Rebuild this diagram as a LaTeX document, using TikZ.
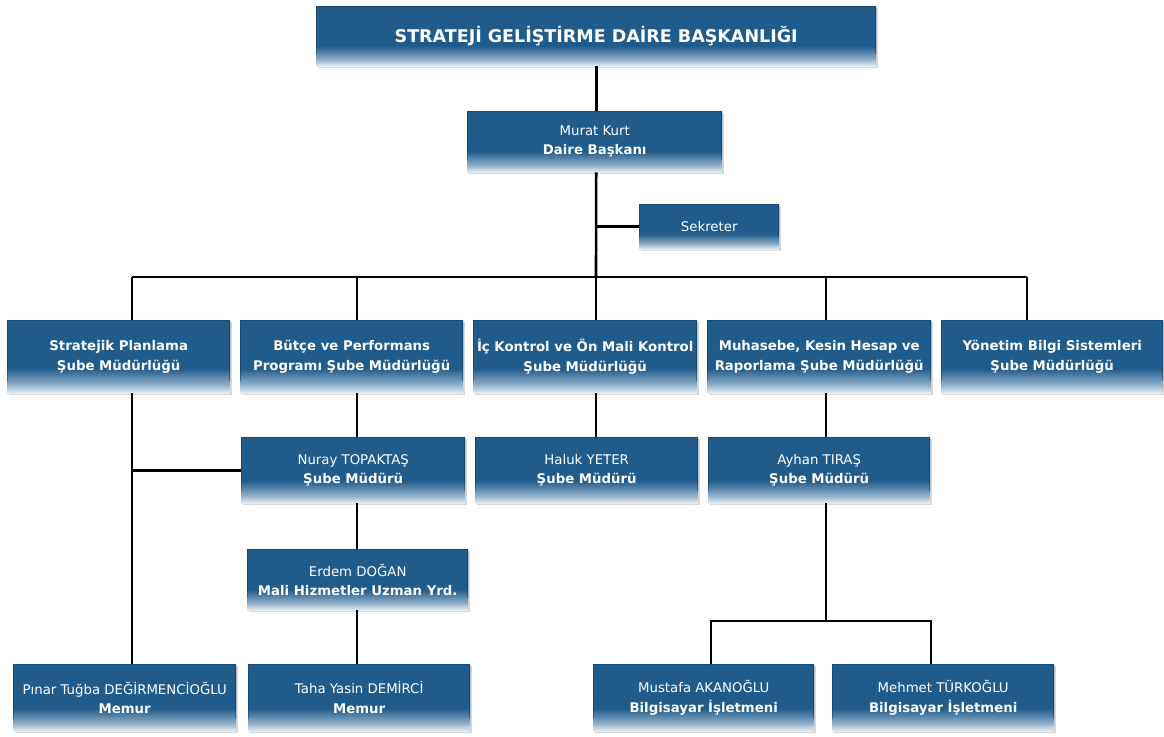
\documentclass[tikz,border=0pt]{standalone}
\usepackage{fontspec}
\setmainfont{DejaVu Sans}
\usetikzlibrary{shadows}
\definecolor{boxtop}{HTML}{1F5C8C}
\definecolor{boxmid}{HTML}{8EADC6}
\definecolor{boxlow}{HTML}{E8EFF5}
\definecolor{boxedge}{HTML}{0E3558}
\pgfdeclareverticalshading{boxshade}{100bp}{color(0bp)=(boxlow); color(25bp)=(boxlow); color(31bp)=(boxmid); color(42bp)=(boxtop); color(100bp)=(boxtop)}
\tikzset{
  orgbox/.style={shading=boxshade, text=white, align=center, inner sep=0pt,
    drop shadow={shadow xshift=1.5pt, shadow yshift=-1.5pt, opacity=0.3, fill=gray},
    path picture={\draw[boxedge, line width=2.4pt, opacity=0.45]
      ([yshift=12pt]path picture bounding box.south west) -- (path picture bounding box.north west)
      -- (path picture bounding box.north east) -- ([yshift=12pt]path picture bounding box.south east);},
    font=\fontsize{13.3}{19.5}\selectfont},
  unitbox/.style={font=\fontsize{13.3}{19.5}\selectfont\bfseries},
  conn/.style={draw=black, line width=2.6pt},
}
\newcommand{\orgnode}[6][]{%
  \node[orgbox, #1, anchor=north west, minimum width={(#4-#2)*1pt}, minimum height={(#5-#3)*1pt}] (#6) at (#2,#3)}
\begin{document}
\begin{tikzpicture}[x=1pt,y=-1pt]
\useasboundingbox (0,0) rectangle (1164,736);
\fill[white] (0,0) rectangle (1164,736);
\orgnode[font=\fontsize{17.5}{20}\selectfont\bfseries]{316}{6}{876}{66}{title} {STRATEJİ GELİŞTİRME DAİRE BAŞKANLIĞI};
\orgnode{467}{111}{722}{172}{murat} {Murat Kurt\\\textbf{Daire Başkanı}};
\orgnode{639}{204}{779}{249}{sek} {Sekreter};
\orgnode[unitbox]{7}{320}{230}{393}{s1} {Stratejik Planlama\\Şube Müdürlüğü};
\orgnode[unitbox]{240}{320}{463}{393}{s2} {Bütçe ve Performans\\Programı Şube Müdürlüğü};
\orgnode[unitbox]{473}{320}{697}{393}{s3} {İç Kontrol ve Ön Mali Kontrol\\Şube Müdürlüğü};
\orgnode[unitbox]{707}{320}{931}{393}{s4} {Muhasebe, Kesin Hesap ve\\Raporlama Şube Müdürlüğü};
\orgnode[unitbox]{941}{320}{1163}{393}{s5} {Yönetim Bilgi Sistemleri\\Şube Müdürlüğü};
\orgnode{241}{437}{465}{503}{nuray} {Nuray TOPAKTAŞ\\\textbf{Şube Müdürü}};
\orgnode{475}{437}{698}{503}{haluk} {Haluk YETER\\\textbf{Şube Müdürü}};
\orgnode{708}{437}{930}{503}{ayhan} {Ayhan TIRAŞ\\\textbf{Şube Müdürü}};
\orgnode{247}{549}{468}{610}{erdem} {Erdem DOĞAN\\\textbf{Mali Hizmetler Uzman Yrd.}};
\orgnode{13}{664}{236}{731}{pinar} {Pınar Tuğba DEĞİRMENCİOĞLU\\\textbf{Memur}};
\orgnode{248}{664}{470}{731}{taha} {Taha Yasin DEMİRCİ\\\textbf{Memur}};
\orgnode{593}{664}{814}{731}{mustafa} {Mustafa AKANOĞLU\\\textbf{Bilgisayar İşletmeni}};
\orgnode{832}{664}{1054}{731}{mehmet} {Mehmet TÜRKOĞLU\\\textbf{Bilgisayar İşletmeni}};
% junctions
\coordinate (c1) at (132,277);
\coordinate (c2) at (357,277);
\coordinate (c3) at (596,277);
\coordinate (c4) at (826,277);
\coordinate (c5) at (1027,277);
\coordinate (ml) at (711,621);
\coordinate (mr) at (931,621);
% connectors
\draw[conn] (title.south) -- (title.south |- murat.north);
\draw[conn] (title.south |- murat.south) -- (c3);
\draw[conn] (title.south |- sek.west) -- (sek.west);
\draw[conn] (c1) -- (c5);
\draw[conn] (c1) -- (c1 |- s1.north);
\draw[conn] (c2) -- (c2 |- s2.north);
\draw[conn] (c3) -- (c3 |- s3.north);
\draw[conn] (c4) -- (c4 |- s4.north);
\draw[conn] (c5) -- (c5 |- s5.north);
\draw[conn] (c1 |- s1.south) -- (c1 |- pinar.north);
\draw[conn] (c1 |- nuray.west) -- (nuray.west);
\draw[conn] (c2 |- s2.south) -- (c2 |- nuray.north);
\draw[conn] (c2 |- nuray.south) -- (c2 |- erdem.north);
\draw[conn] (c2 |- erdem.south) -- (c2 |- taha.north);
\draw[conn] (c3 |- s3.south) -- (c3 |- haluk.north);
\draw[conn] (c4 |- s4.south) -- (c4 |- ayhan.north);
\draw[conn] (c4 |- ayhan.south) -- (c4 |- ml);
\draw[conn] (ml |- mustafa.north) -- (ml) -- (mr) -- (mr |- mehmet.north);
\end{tikzpicture}
\end{document}
